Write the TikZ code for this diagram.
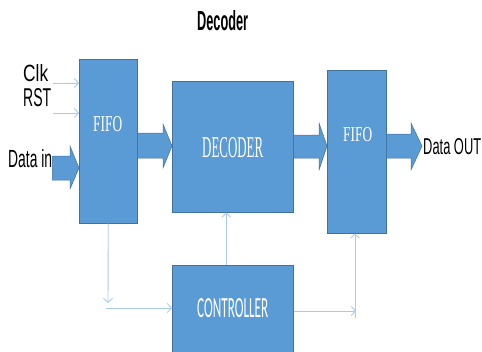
\documentclass[tikz,border=0pt]{standalone}
\usepackage{fontspec}
\setmainfont{Liberation Serif}
\newfontfamily\labelfont{Liberation Sans}
\newfontfamily\ctrlfont{Carlito}
\usetikzlibrary{arrows.meta,calc}

\definecolor{blockfill}{HTML}{5B9BD5}
\definecolor{blockline}{HTML}{41719C}
\definecolor{wirecol}{HTML}{A9CBEA}

% text squeezed into a fixed width x height box
\newcommand{\fitbox}[3]{\resizebox{#1pt}{#2pt}{#3}}

\begin{document}
\begin{tikzpicture}[x=1pt,y=-1pt,
  block/.style={draw=blockline,line width=0.6pt,fill=blockfill,inner sep=0pt,anchor=north west},
  fat/.style={draw=blockline,line width=0.5pt,fill=blockfill},
  wire/.style={draw=wirecol,line width=0.9pt,-{Straight Barb[length=4pt,width=9pt]}},
  plainwire/.style={draw=wirecol,line width=0.9pt},
  txt/.style={inner sep=0pt,anchor=south west},
  wtxt/.style={inner sep=0pt,anchor=south west,text=white}]
\useasboundingbox (0,0) rectangle (482,351);

% blocks
\node[block,minimum width=58pt,minimum height=164pt] (fifo1) at (79,59) {};
\node[block,minimum width=121pt,minimum height=131pt] (decoder) at (172,81) {};
\node[block,minimum width=59pt,minimum height=163pt] (fifo2) at (327,70) {};
\node[block,minimum width=121pt,minimum height=90pt] (controller) at (172,265) {};

% block captions
\node[wtxt] (fifo1txt) at (93,132) {\fitbox{29}{15}{FIFO}};
\node[wtxt] (dectxt) at (202,158) {\fitbox{61}{20}{DECODER}};
\node[wtxt] (fifo2txt) at (343,142) {\fitbox{29}{14}{FIFO}};
\node[wtxt] (ctrltxt) at (197,318) {\fitbox{71}{19}{\ctrlfont CONTROLLER}};

% outer labels
\node[txt] (title) at (197,31) {\fitbox{51}{20}{\labelfont\bfseries Decoder}};
\node[txt] (clk) at (23,82) {\fitbox{25}{17}{\labelfont Clk}};
\node[txt] (rst) at (23,107) {\fitbox{28}{18}{\labelfont RST}};
\node[txt] (din) at (8,168) {\fitbox{44}{18}{\labelfont Data in}};
\node[txt] (dout) at (423,155) {\fitbox{58}{16}{\labelfont Data OUT}};

% wide data arrows
\fill[fat] ($(din.south east)+(0,-12)$) -- (70,156) -- (70,146) -- (fifo1.west |- 0,168)
  -- (70,189) -- (70,180) -- ($(din.south east)+(0,12)$) -- cycle;
\fill[fat] (fifo1.east |- 0,133) -- (163,133) -- (163,124) -- (decoder.west |- 0,146)
  -- (163,168) -- (163,158) -- (fifo1.east |- 0,158) -- cycle;
\fill[fat] (decoder.east |- 0,135) -- (319,135) -- (319,123) -- (fifo2.west |- 0,146)
  -- (319,170) -- (319,158) -- (decoder.east |- 0,158) -- cycle;
\coordinate (outtip) at (422,146);
\fill[fat] (fifo2.east |- 0,134) -- (411,134) -- (411,123) -- (outtip)
  -- (411,170) -- (411,158) -- (fifo2.east |- 0,158) -- cycle;

% control wires
\coordinate (clkin) at (53,83);
\coordinate (rstin) at (53,113);
\draw[wire] (clkin) -- (clkin -| fifo1.west);
\draw[wire] (rstin) -- (rstin -| fifo1.west);

\coordinate (down) at (108,303);
\draw[wire] (fifo1.south) -- (down);
\coordinate (turn) at (106,308);
\draw[wire] (turn) -- (turn -| controller.west);

\draw[wire] ([xshift=-6.5pt]controller.north) -- ([xshift=-6.5pt]decoder.south);

\coordinate (corner) at (356,311);
\draw[wire] (corner -| controller.east) -- (corner);
\coordinate (riser) at (355,318);
\draw[wire] (riser) -- (riser |- fifo2.south);
\end{tikzpicture}
\end{document}
